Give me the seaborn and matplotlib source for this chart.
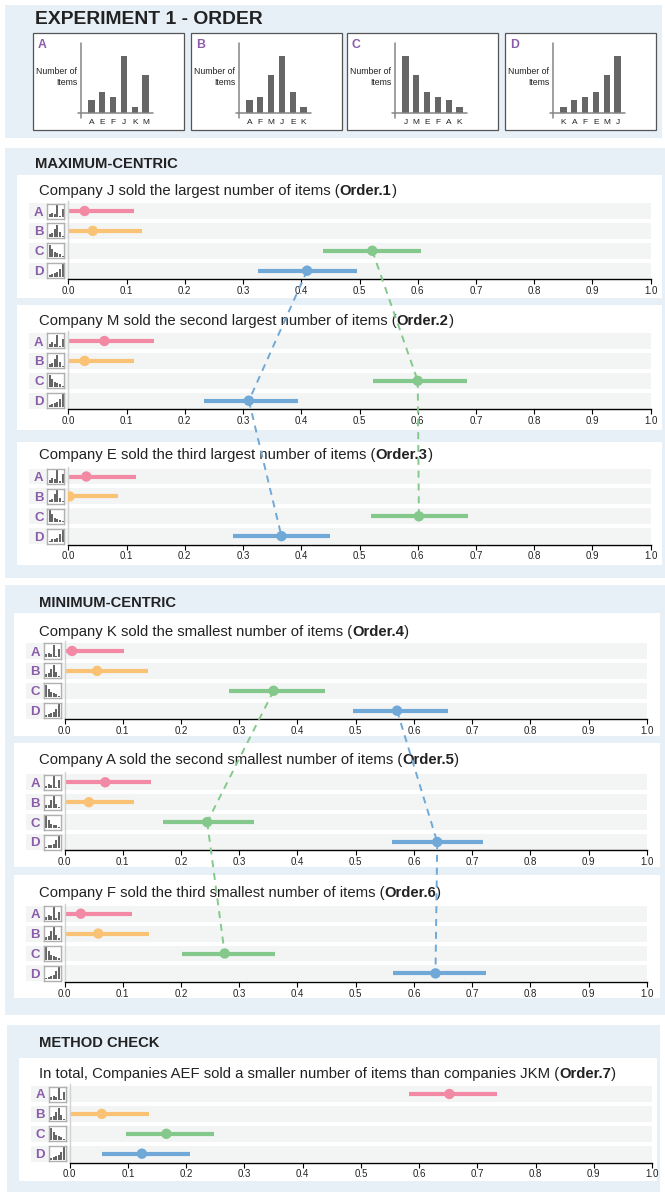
import numpy as np
import pandas as pd
import matplotlib
matplotlib.use("Agg")
import matplotlib.pyplot as plt
import seaborn as sns
from matplotlib.patches import Rectangle
from matplotlib.lines import Line2D

sns.set_style("white")
plt.rcParams["font.family"] = ["Liberation Sans", "DejaVu Sans"]

# ---------------------------------------------------------------- data
companies = ["A", "E", "F", "J", "K", "M"]
items_sold = [13, 21, 16, 57, 6, 38]

order_a = ["A", "E", "F", "J", "K", "M"]
order_b = ["A", "F", "M", "J", "E", "K"]
order_c = ["J", "M", "E", "F", "A", "K"]
order_d = ["K", "A", "F", "E", "M", "J"]

conditions = ["A", "B", "C", "D"]

order1_mean = [0.028, 0.042, 0.522, 0.410]
order1_low = [0.0, 0.0, 0.437, 0.326]
order1_high = [0.113, 0.127, 0.606, 0.495]

order2_mean = [0.062, 0.028, 0.600, 0.310]
order2_low = [0.0, 0.0, 0.523, 0.233]
order2_high = [0.147, 0.113, 0.685, 0.395]

order3_mean = [0.031, 0.002, 0.602, 0.366]
order3_low = [0.0, 0.0, 0.519, 0.282]
order3_high = [0.116, 0.085, 0.687, 0.450]

order4_mean = [0.013, 0.056, 0.359, 0.571]
order4_low = [0.0, 0.0, 0.283, 0.496]
order4_high = [0.102, 0.143, 0.447, 0.659]

order5_mean = [0.070, 0.042, 0.245, 0.640]
order5_low = [0.0, 0.0, 0.169, 0.562]
order5_high = [0.148, 0.119, 0.325, 0.718]

order6_mean = [0.028, 0.058, 0.275, 0.637]
order6_low = [0.0, 0.0, 0.202, 0.564]
order6_high = [0.116, 0.145, 0.361, 0.723]

order7_mean = [0.652, 0.055, 0.166, 0.124]
order7_low = [0.583, 0.0, 0.097, 0.056]
order7_high = [0.734, 0.136, 0.247, 0.206]

titles = [
    ("Company J sold the largest number of items (", "Order.1"),
    ("Company M sold the second largest number of items (", "Order.2"),
    ("Company E sold the third largest number of items (", "Order.3"),
    ("Company K sold the smallest number of items (", "Order.4"),
    ("Company A sold the second smallest number of items (", "Order.5"),
    ("Company F sold the third smallest number of items (", "Order.6"),
    ("In total, Companies AEF sold a smaller number of items than companies JKM (", "Order.7"),
]
ticks = np.round(np.arange(0, 1.01, 0.1), 1)

# ---------------------------------------------------------------- style
PINK, ORANGE, GREEN, BLUE = "#f28aa5", "#fac274", "#84c98b", "#70a8d8"
cond_colors = [PINK, ORANGE, GREEN, BLUE]
PURPLE = "#8a5caa"
SECTION_BG = "#e7eff7"
BAND = "#f3f5f4"
BAR = "#666666"
AXIS_GREY = "#858585"
TEXT = "#222222"

W, H = 665, 1192
fig = plt.figure(figsize=(W / 100, H / 100), dpi=100, facecolor="white")
renderer = fig.canvas.get_renderer()


def fx(x):
    return x / W


def fy(y):
    return 1 - y / H


def rect(x0, y0, x1, y1, color, z=-10, ec="none", lw=0):
    fig.add_artist(Rectangle((fx(x0), fy(y1)), (x1 - x0) / W, (y1 - y0) / H,
                             transform=fig.transFigure, facecolor=color,
                             edgecolor=ec, linewidth=lw, zorder=z))


def rich_title(x, y, plain, bold, size=10.7):
    t = fig.text(fx(x), fy(y), plain, ha="left", va="center", fontsize=size, color=TEXT)
    x1 = t.get_window_extent(renderer).x1 / fig.bbox.width
    t2 = fig.text(x1, fy(y), bold, ha="left", va="center", fontsize=size,
                  color=TEXT, weight="bold")
    x2 = t2.get_window_extent(renderer).x1 / fig.bbox.width
    fig.text(x2, fy(y), ")", ha="left", va="center", fontsize=size, color=TEXT)


def values_for(order):
    return [items_sold[companies.index(c)] for c in order]


# ---------------------------------------------------------------- backgrounds
rect(5, 5, 662, 138, SECTION_BG)
rect(5, 148, 665, 578, SECTION_BG)
rect(5, 585, 665, 1015, SECTION_BG)
rect(7, 1025, 660, 1192, SECTION_BG)

for (a, b, c, d) in [(17, 175, 662, 298), (17, 305, 662, 430), (17, 442, 662, 565),
                     (14, 613, 660, 736), (14, 743, 660, 867), (14, 875, 660, 998),
                     (19, 1058, 657, 1181)]:
    rect(a, b, c, d, "white", z=-9)

fig.text(fx(35), fy(20), "EXPERIMENT 1 - ORDER", ha="left", va="center",
         fontsize=13.9, weight="bold", color=TEXT)
fig.text(fx(35), fy(164), "MAXIMUM-CENTRIC", ha="left", va="center",
         fontsize=10.6, weight="bold", color=TEXT)
fig.text(fx(39), fy(603), "MINIMUM-CENTRIC", ha="left", va="center",
         fontsize=10.6, weight="bold", color=TEXT)
fig.text(fx(39), fy(1043), "METHOD CHECK", ha="left", va="center",
         fontsize=10.6, weight="bold", color=TEXT)

# ---------------------------------------------------------------- stimulus charts
chart_orders = [order_a, order_b, order_c, order_d]
boxes = [(33, 33), (191, 33), (347, 33), (505, 33)]
for (bx, by), letter, order in zip(boxes, conditions, chart_orders):
    rect(bx, by, bx + 151, by + 97, "white", z=-8, ec="#555555", lw=0.9)
    fig.text(fx(bx + 5), fy(by + 12), letter, ha="left", va="center",
             fontsize=8.8, weight="bold", color=PURPLE)
    fig.text(fx(bx + 44.5), fy(by + 44), "Number of\nItems", ha="right",
             va="center", fontsize=6.3, linespacing=1.35, color=TEXT)
    ax = fig.add_axes([fx(bx + 45), fy(by + 85), 77 / W, 75 / H])
    sns.barplot(x=order, y=values_for(order), order=order, color=BAR, width=0.56,
                saturation=1, errorbar=None, linewidth=0, ax=ax)
    ax.set_xlim(-1.25, (122 - 58.5) / 10.8)
    ax.set_ylim(-5, 70)
    for s in ax.spines.values():
        s.set_visible(False)
    ax.patch.set_alpha(0)
    ax.plot([-0.97, -0.97], [-5, 70], color=AXIS_GREY, lw=1.1, clip_on=False)
    ax.plot([-1.25, 5.69], [0, 0], color=AXIS_GREY, lw=1.1, clip_on=False)
    ax.set_yticks([])
    ax.set_xlabel("")
    ax.set_ylabel("")
    ax.tick_params(axis="x", length=0, pad=0.8, labelsize=6, labelcolor=TEXT)


# ---------------------------------------------------------------- result panels
PITCH = 19.9
AXW = 582.4


def thumbnail(x, y, order):
    ax = fig.add_axes([fx(x), fy(y + 7.5), 17 / W, 15 / H])
    sns.barplot(x=order, y=values_for(order), order=order, color=BAR, width=0.78,
                saturation=1, errorbar=None, linewidth=0, ax=ax)
    ax.set_xlim(-1.0, 5.7)
    ax.set_ylim(-7, 63)
    ax.set_xticks([])
    ax.set_yticks([])
    ax.set_xlabel("")
    ax.set_ylabel("")
    ax.set_facecolor("white")
    for s in ax.spines.values():
        s.set_visible(True)
        s.set_color("#b0b0b0")
        s.set_linewidth(1.0)


def panel(x0, yA, axis_y, title_y, title, means, lows, highs):
    top = yA - 0.5 * PITCH
    ax = fig.add_axes([fx(x0), fy(axis_y), AXW / W, (axis_y - top) / H])
    ybottom = 3 + (axis_y - (yA + 3 * PITCH)) / PITCH
    ax.patch.set_alpha(0)
    band_left = -39 / AXW
    for i in range(4):
        ax.add_patch(Rectangle((band_left, i - 0.4), 1 - band_left, 0.8,
                               facecolor=BAND, edgecolor="none", clip_on=False, zorder=0))
    ax.hlines(range(4), lows, highs, colors=cond_colors, linewidth=3.0, zorder=2)
    df = pd.DataFrame({"value": means, "row": range(4), "cond": conditions})
    sns.scatterplot(data=df, x="value", y="row", hue="cond",
                    palette=dict(zip(conditions, cond_colors)), s=56,
                    linewidth=0, legend=False, ax=ax, zorder=3)
    ax.set_xlim(0, 1)
    ax.set_ylim(ybottom, -0.5)
    ax.set_xlabel("")
    ax.set_ylabel("")
    ax.set_yticks([])
    ax.set_xticks(ticks, [f"{t:.1f}" for t in ticks])
    ax.tick_params(axis="x", direction="out", length=3.5, width=0.8, color="black",
                   pad=1.5, labelsize=7, labelcolor=TEXT, bottom=True)
    for side in ("top", "right"):
        ax.spines[side].set_visible(False)
    ax.spines["bottom"].set_color("black")
    ax.spines["bottom"].set_linewidth(1.0)
    ax.spines["left"].set_color("#d2d2d2")
    ax.spines["left"].set_linewidth(1.0)

    rich_title(39, title_y, *title)
    for i, (letter, order) in enumerate(zip(conditions, chart_orders)):
        yr = yA + i * PITCH
        fig.text(fx(x0 - 29.5), fy(yr), letter, ha="center", va="center_baseline",
                 fontsize=9.5, weight="bold", color=PURPLE)
        thumbnail(x0 - 21, yr, order)
    return ax


panel_specs = [
    (68.3, 211.0, 279.0, 191.0, order1_mean, order1_low, order1_high),
    (68.3, 341.0, 409.0, 320.7, order2_mean, order2_low, order2_high),
    (68.3, 476.5, 544.5, 455.0, order3_mean, order3_low, order3_high),
    (64.5, 651.0, 719.0, 631.7, order4_mean, order4_low, order4_high),
    (64.5, 782.3, 850.3, 759.7, order5_mean, order5_low, order5_high),
    (64.5, 913.7, 982.0, 893.0, order6_mean, order6_low, order6_high),
    (69.7, 1094.0, 1162.5, 1074.0, order7_mean, order7_low, order7_high),
]

axes = []
for spec, title in zip(panel_specs, titles):
    x0, yA, ay, ty, m, lo, hi = spec
    axes.append((panel(x0, yA, ay, ty, title, m, lo, hi), m))


# dashed links following the C and D estimates across consecutive statements
def link(ax_from, m_from, ax_to, m_to, row, color):
    inv = fig.transFigure.inverted()
    p0 = inv.transform(ax_from.transData.transform((m_from[row], row)))
    p1 = inv.transform(ax_to.transData.transform((m_to[row], row)))
    fig.add_artist(Line2D([p0[0], p1[0]], [p0[1], p1[1]], transform=fig.transFigure,
                          color=color, lw=1.4, linestyle=(0, (3.6, 3.0)), zorder=5))


for group in ([0, 1, 2], [3, 4, 5]):
    for a, b in zip(group[:-1], group[1:]):
        for row in (2, 3):
            link(axes[a][0], axes[a][1], axes[b][0], axes[b][1], row, cond_colors[row])

fig.savefig("out.png", dpi=100, facecolor="white")
